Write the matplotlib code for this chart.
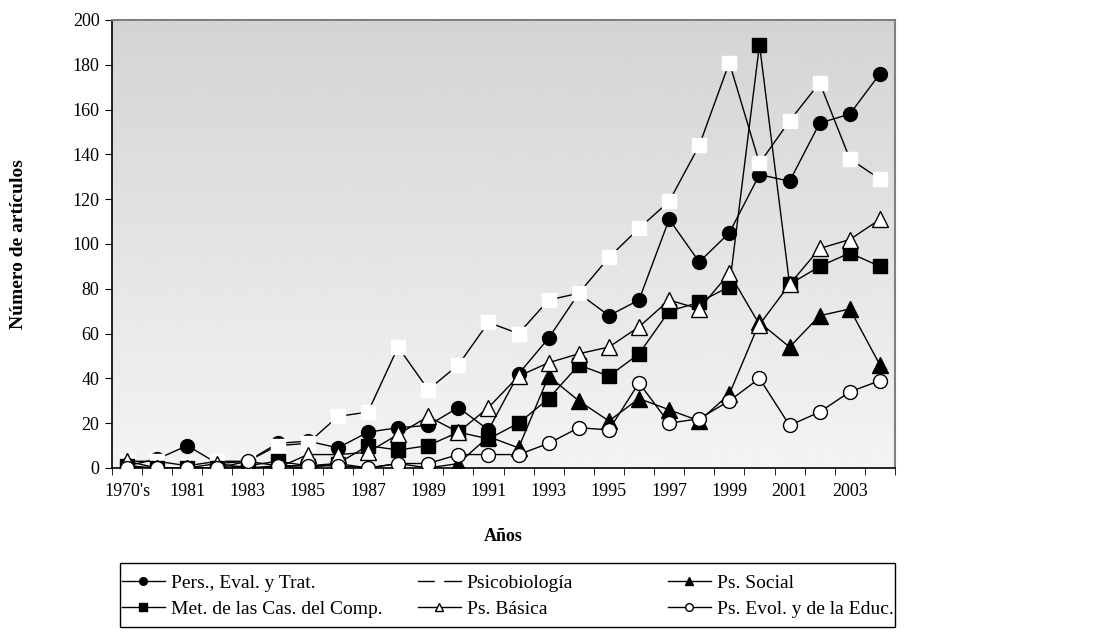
import numpy as np
import matplotlib
matplotlib.use("Agg")
import matplotlib.pyplot as plt
from matplotlib.patches import Rectangle

plt.rcParams['font.family'] = ['Liberation Serif', 'DejaVu Serif']

categories = ["1970's"] + [str(y) for y in range(1980, 2005)]

pers = [1, 4, 10, 2, 3, 11, 12, 9, 16, 18, 19, 27, 17, 42, 58, 78, 68, 75,
        111, 92, 105, 131, 128, 154, 158, 176]
psicob = [3, 3, 1, 3, 3, 10, 11, 23, 25, 54, 35, 46, 65, 60, 75, 78, 94, 107,
          119, 144, 181, 136, 155, 172, 138, 129]
social = [0, 0, 0, 0, 0, 1, 0, 2, 0, 2, 0, 2, 14, 9, 41, 30, 21, 31,
          26, 21, 33, 65, 54, 68, 71, 46]
metodos = [1, 0, 0, 0, 1, 3, 1, 2, 10, 8, 10, 16, 13, 20, 31, 46, 41, 51,
           70, 74, 81, 189, 82, 90, 96, 90]
basica = [3, 0, 0, 2, 0, 0, 6, 6, 7, 15, 23, 16, 27, 41, 47, 51, 54, 63,
          75, 71, 87, 64, 82, 98, 102, 111]
evol = [0, 0, 0, 0, 3, 1, 1, 1, 0, 2, 2, 6, 6, 6, 11, 18, 17, 38,
        20, 22, 30, 40, 19, 25, 34, 39]

series_names = ["Pers., Eval. y Trat.", "Psicobiología", "Ps. Social",
                "Met. de las Cas. del Comp.", "Ps. Básica",
                "Ps. Evol. y de la Educ."]
y_ticks = list(range(0, 201, 20))

W, H = 1099, 637
fig = plt.figure(figsize=(W/100, H/100), dpi=100)
ax = fig.add_axes([112/W, 1-468/H, (895-112)/W, (468-20)/H])

x = np.arange(len(categories))

# gradient background: darker at top, lighter at bottom
grad = np.linspace(0.955, 0.83, 256).reshape(-1, 1)
ax.imshow(grad, extent=[-0.5, len(categories)-0.5, 0, 200], aspect='auto',
          cmap='gray', vmin=0, vmax=1, zorder=0, origin='lower')

ms = 10
styles = [
    (pers, dict(marker='o', mfc='black', mec='black', ms=ms)),
    (psicob, dict(marker='s', mfc='white', mec='white', ms=ms)),
    (social, dict(marker='^', mfc='black', mec='black', ms=ms+1)),
    (metodos, dict(marker='s', mfc='black', mec='black', ms=ms)),
    (basica, dict(marker='^', mfc='white', mec='black', ms=ms+1, mew=1.0)),
    (evol, dict(marker='o', mfc='white', mec='black', ms=ms, mew=1.0)),
]
handles = []
for i, ((vals, st), name) in enumerate(zip(styles, series_names)):
    ln, = ax.plot(x, vals, color='black', lw=1.0, label=name, zorder=3+i, **st)
    handles.append(ln)

ax.set_xlim(-0.5, len(categories)-0.5)
ax.set_ylim(0, 200)
ax.set_yticks(y_ticks)
ax.set_yticklabels([str(v) for v in y_ticks], fontsize=13)
ax.set_xticks(x[::2])
ax.set_xticklabels(categories[::2], fontsize=13)
ax.set_xticks(np.arange(-0.5, len(categories), 1.0), minor=True)
ax.tick_params(axis='x', which='major', length=0, pad=11)
ax.tick_params(axis='x', which='minor', length=5, direction='out', color='black')
ax.tick_params(axis='y', length=5, direction='out', pad=4)

for s in ['left', 'bottom']:
    ax.spines[s].set_color('black')
    ax.spines[s].set_linewidth(1.2)
for s in ['top', 'right']:
    ax.spines[s].set_color('#808080')
    ax.spines[s].set_linewidth(1.5)

ax.set_ylabel("Número de artículos", fontsize=14, fontweight='bold')
ax.yaxis.set_label_coords(-0.108, 0.5)
ax.set_xlabel("Años", fontsize=13, fontweight='bold', labelpad=20)

# legend box
fig.patches.append(Rectangle((120/W, 1-627/H), (895-120)/W, (627-563)/H,
                             transform=fig.transFigure, fill=False,
                             edgecolor='black', lw=1.0))
col_x = [122, 418, 668]
cols = [[0, 3], [1, 4], [2, 5]]
for cx, idx in zip(col_x, cols):
    fig.legend([handles[i] for i in idx], [series_names[i] for i in idx],
               loc='upper left', bbox_to_anchor=(cx/W, 1-574/H),
               frameon=False, fontsize=14, markerscale=0.55,
               handlelength=2.2, handletextpad=0.3,
               labelspacing=0.45, borderpad=0.0, borderaxespad=0)

fig.savefig("out.png", dpi=100, facecolor='white')
